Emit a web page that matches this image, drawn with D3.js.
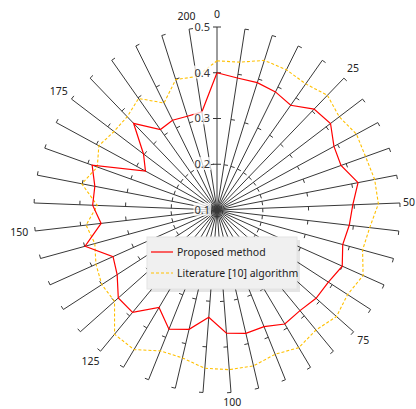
<!DOCTYPE html>
<html><head><meta charset="utf-8">
<script src="https://cdn.jsdelivr.net/npm/d3@7"></script>
<style>html,body{margin:0;padding:0;background:#fff;}svg{display:block;}</style>
</head><body>
<svg id="chart" width="416" height="409"></svg>
<script>
// ---- data ----
const angles = d3.range(0, 205, 5); // 0..200
const proposed = [0.400,0.392,0.392,0.388,0.380,0.406,0.412,0.391,0.388,0.414,0.397,0.391,0.385,0.400,0.390,0.390,0.385,0.390,0.375,0.377,0.370,0.335,0.368,0.381,0.348,0.390,0.389,0.360,0.349,0.399,0.355,0.372,0.372,0.390,0.278,0.302,0.363,0.315,0.319,0.315,0.317];
const literature = [0.426,0.427,0.443,0.442,0.437,0.448,0.436,0.447,0.445,0.451,0.453,0.436,0.430,0.450,0.440,0.450,0.440,0.450,0.440,0.450,0.450,0.447,0.432,0.432,0.455,0.452,0.400,0.400,0.390,0.377,0.388,0.362,0.401,0.378,0.394,0.383,0.383,0.398,0.361,0.399,0.395];
const radialTicks = [0.1, 0.2, 0.3, 0.4, 0.5];
const angleLabels = [0, 25, 50, 75, 100, 125, 150, 175, 200];
const seriesNames = ["Proposed method", "Literature [10] algorithm"];

// ---- layout ----
const W = 416, H = 409;
const cx = 217, cy = 210, R = 183;
const font = "'Noto Sans', sans-serif";
const svg = d3.select("#chart");
const g = svg.append("g").attr("transform", `translate(${cx},${cy})`);
const ang = d3.scaleLinear().domain([0, 205]).range([0, 2 * Math.PI]);
const rad = d3.scaleLinear().domain([0.1, 0.5]).range([0, R]);
const pt = (a, r) => [Math.sin(a) * r, -Math.cos(a) * r];

// spokes
angles.forEach(v => {
  const a = ang(v);
  const [x2, y2] = pt(a, R);
  g.append("line").attr("x1", 0).attr("y1", 0).attr("x2", x2).attr("y2", y2)
    .attr("stroke", "#383838").attr("stroke-width", 1);
  radialTicks.slice(1).forEach(t => {
    const [px, py] = pt(a, rad(t));
    const nx = Math.cos(a), ny = Math.sin(a);
    g.append("line").attr("x1", px).attr("y1", py)
      .attr("x2", px + nx * 4).attr("y2", py + ny * 4)
      .attr("stroke", "#383838").attr("stroke-width", 1);
  });
});

// series
const line = d3.lineRadial().angle((d, i) => ang(angles[i])).radius(d => rad(d)).curve(d3.curveLinearClosed);
g.append("path").attr("d", line(literature)).attr("fill", "none")
  .attr("stroke", "#ffc000").attr("stroke-width", 1.1).attr("stroke-dasharray", "3,2");
g.append("path").attr("d", line(proposed)).attr("fill", "none")
  .attr("stroke", "#ff0000").attr("stroke-width", 1.2);

// radial axis
radialTicks.forEach(t => {
  const y = -rad(t);
  if (t > 0.1) g.append("line").attr("x1", -4).attr("x2", 0).attr("y1", y).attr("y2", y)
    .attr("stroke", "#333").attr("stroke-width", 1);
  const txt = g.append("text").attr("x", -7).attr("y", y).attr("dy", "0.35em")
    .attr("text-anchor", "end").attr("font-family", font).attr("font-size", 11)
    .attr("fill", "#333").text(d3.format(".1f")(t));
  const bb = txt.node().getBBox();
  g.insert("rect", () => txt.node()).attr("x", bb.x - 1).attr("y", bb.y + 1)
    .attr("width", bb.width + 2).attr("height", bb.height - 2)
    .attr("fill", "#fff").attr("fill-opacity", 0.75);
});

// angle labels
angleLabels.forEach(v => {
  const a = ang(v);
  const t = g.append("text").attr("font-family", font).attr("font-size", 10.5)
    .attr("fill", "#222").attr("text-anchor", "middle").attr("dy", "0.35em").text(v);
  const w = t.node().getComputedTextLength(), h = 12;
  const [px, py] = pt(a, R + 7);
  let x = px + Math.sin(a) * w / 2, y = py - Math.cos(a) * h / 2;
  x = Math.min(x, W - cx - w / 2 - 1);
  y = Math.min(y, H - cy - 7);
  t.attr("x", x).attr("y", y);
});

// legend
const lg = svg.append("g").attr("transform", "translate(147,237)");
lg.append("rect").attr("x", 3).attr("y", 3).attr("width", 150).attr("height", 52)
  .attr("fill", "#000").attr("fill-opacity", 0.1);
lg.append("rect").attr("x", 0).attr("y", 0).attr("width", 150).attr("height", 52)
  .attr("fill", "#f0f0f0").attr("stroke", "#e4e4e4");
const legendStyles = [
  { color: "#ff0000", dash: null },
  { color: "#ffc000", dash: "3,2" }
];
seriesNames.forEach((name, i) => {
  const y = 15 + i * 21;
  lg.append("line").attr("x1", 4).attr("x2", 26).attr("y1", y).attr("y2", y)
    .attr("stroke", legendStyles[i].color).attr("stroke-width", 1.2)
    .attr("stroke-dasharray", legendStyles[i].dash);
  lg.append("text").attr("x", 30).attr("y", y).attr("dy", "0.35em")
    .attr("font-family", font).attr("font-size", 10.5).attr("fill", "#222").text(name);
});
</script>
</body></html>
